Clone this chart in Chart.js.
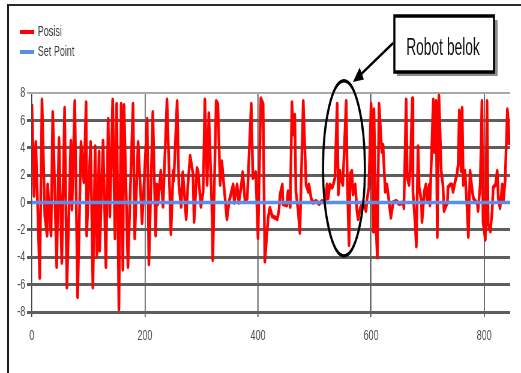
<!DOCTYPE html>
<html>
<head>
<meta charset="utf-8">
<script src="https://cdn.jsdelivr.net/npm/chart.js@4.4.1/dist/chart.umd.min.js"></script>
<style>
  html, body { margin: 0; padding: 0; background: #fff; }
  body { width: 521px; height: 373px; position: relative; overflow: hidden; }
  #frame { position: absolute; left: 7px; top: 4px; width: 520px; height: 372px;
           border-top: 2px solid #2a2a2a; border-left: 2px solid #1a1a1a; }
  /* the original picture is a chart squeezed horizontally */
  #wrap { position: absolute; left: 0; top: 0; width: 868px; height: 373px;
          transform: scaleX(0.60023); transform-origin: 0 0; }
</style>
</head>
<body>
<div id="frame"></div>
<div id="wrap"><canvas id="grafik" width="868" height="373"></canvas></div>
<script>
// data
var posisiX = [0, 4, 7, 14, 18, 23, 27, 28, 34, 37, 44, 48, 53, 58, 62, 69, 71, 76, 81, 87,
  92, 96, 97, 104, 108, 112, 115, 119, 120, 126, 131, 135, 138, 143, 147, 150, 154, 158, 161, 163,
  170, 175, 179, 182, 188, 195, 204, 207, 214, 219, 221, 223, 228, 232, 239, 246, 250, 251, 257, 260,
  264, 267, 273, 276, 280, 285, 287, 292, 294, 299, 303, 306, 310, 313, 319, 320, 326, 329, 333, 336,
  340, 345, 349, 356, 358, 363, 366, 370, 373, 377, 381, 388, 391, 396, 400, 405, 409, 412, 418, 421,
  425, 430, 434, 437, 439, 443, 444, 451, 453, 457, 460, 462, 465, 467, 471, 474, 480, 481, 485, 489,
  490, 494, 497, 503, 508, 513, 519, 522, 524, 527, 531, 533, 536, 540, 542, 545, 547, 550, 556, 558,
  561, 563, 566, 568, 572, 575, 577, 581, 586, 591, 593, 596, 600, 604, 605, 609, 611, 614, 619, 621,
  625, 628, 632, 635, 639, 644, 650, 657, 658, 662, 664, 667, 669, 673, 674, 678, 680, 683, 685, 689,
  690, 694, 697, 699, 703, 704, 710, 712, 715, 717, 720, 724, 727, 729, 735, 736, 740, 743, 745, 749,
  752, 754, 756, 759, 761, 763, 766, 770, 772, 775, 779, 781, 788, 789, 793, 796, 798, 802, 805, 807,
  811, 814, 816, 820, 823, 825, 828, 832, 834, 837, 841, 843, 844];
var posisiY = [7.2, 0.5, 4.4, -5.5, 7.5, -1.0, -2.4, 1.3, -2.4, 6.6, -4.7, 4.7, -4.4, 6.9, -6.2, 4.5, -0.5, 7.4, -6.9, 4.4,
  1.5, 7.3, -2.4, 4.4, -6.2, 4.1, -3.9, 3.7, -3.5, 4.5, -4.7, 6.1, -1.0, 7.5, -2.6, 7.2, -7.8, 7.2, -4.9, 7.1,
  -4.7, 2.0, 7.2, -2.6, 4.4, -1.5, 6.1, -4.5, 6.6, -2.4, 1.3, -0.1, 2.3, -0.3, 7.5, -2.3, 2.3, 1.6, 7.4, 1.3,
  -0.3, 2.2, -1.2, 1.3, 3.4, 2.1, -1.4, 2.5, 2.3, -0.3, 0.8, 7.5, 1.3, 6.5, -1.1, -4.2, 7.4, 7.2, 1.3, 3.0,
  1.1, -1.2, 0.1, 1.3, 0, 1.3, 0, 1.1, 2.2, 0.1, 0.3, 7.2, 1.8, 2.2, -2.6, 7.6, 7.2, -4.3, -1.1, -0.4,
  -1.0, -1.1, -1.2, -0.6, 0.6, 1.3, -0.1, -0.2, 0.8, -0.3, 7.3, 5.0, 6.4, 0.8, -0.6, -2.2, 7.4, 6.2, 1.3, 0.8,
  1.3, 0.3, 0, 0.1, -0.1, 0.1, 0, 1.3, 0.3, 1.3, 1.1, 1.3, 1.8, 7.2, 0.6, 2.3, 1.7, 1.3, 7.4, 1.3,
  -3.1, 2.1, 2.3, 0.6, 1.3, -0.6, -1.2, -0.4, 0.1, -0.6, 0.3, 1.1, 7.2, -2.1, 6.8, -2.1, -4.0, 7.2, 3.7, 4.2,
  0.8, 1.3, 0, -1.1, 0, 0.1, -0.1, 0, -0.4, 7.5, 1.8, 1.3, 2.3, 7.6, 0.8, -1.6, -3.2, 4.1, 1.1, 0.1,
  -1.4, 0.8, 1.3, 0.1, 1.3, -0.2, 7.5, 3.7, 7.4, -2.5, 7.8, 2.3, 1.3, -0.6, 0, 1.1, 1.3, 1.3, 0.8, 1.6,
  2.1, 2.8, 6.7, 2.3, 6.9, 1.3, 2.3, -0.6, -2.5, 2.3, 0.8, 0.3, -0.1, -0.6, 1.3, 7.4, -1.4, -2.7, 7.4, -1.6,
  -2.1, -0.6, 1.1, 1.3, 2.3, 0.3, -0.4, 1.3, 0.1, 1.6, 6.8, 5.7, 4.2];
var setPointX = [0, 846];
var setPointY = [0, 0];
var xTicks = [0, 200, 400, 600, 800];
var yTicks = [-8, -6, -4, -2, 0, 2, 4, 6, 8];

Chart.defaults.font.family = "'Liberation Sans', Arial, sans-serif";
Chart.defaults.font.size = 15;
Chart.defaults.color = '#505050';

// legend, ellipse, arrow and text box drawn on top
var catatan = {
  id: 'catatan',
  afterDraw: function (chart) {
    var ctx = chart.ctx;
    var sx = chart.scales.x, sy = chart.scales.y;
    ctx.save();

    // legend
    var rows = [32, 52];
    chart.data.datasets.forEach(function (ds, i) {
      ctx.strokeStyle = ds.borderColor;
      ctx.lineWidth = 4;
      ctx.beginPath();
      ctx.moveTo(33, rows[i]);
      ctx.lineTo(57, rows[i]);
      ctx.stroke();
      ctx.fillStyle = '#3a3a3a';
      ctx.font = "15px 'Liberation Sans', Arial, sans-serif";
      ctx.textBaseline = 'middle';
      ctx.textAlign = 'left';
      ctx.fillText(ds.label, 63, rows[i]);
    });

    // ellipse round the turning part
    var cx = sx.getPixelForValue(552), cy = sy.getPixelForValue(2.5);
    var rx = sx.getPixelForValue(552 + 37) - cx;
    var ry = cy - sy.getPixelForValue(2.5 + 6.4);
    ctx.strokeStyle = '#000';
    ctx.lineWidth = 3.5;
    ctx.beginPath();
    ctx.ellipse(cx, cy, rx, ry, 0, 0, Math.PI * 2);
    ctx.stroke();

    // arrow
    var x1 = 655, y1 = 43, x2 = 588, y2 = 82;
    var ang = Math.atan2(y2 - y1, x2 - x1);
    ctx.lineWidth = 3;
    ctx.beginPath();
    ctx.moveTo(x1, y1);
    ctx.lineTo(x2 - 10 * Math.cos(ang), y2 - 10 * Math.sin(ang));
    ctx.stroke();
    ctx.fillStyle = '#000';
    ctx.beginPath();
    ctx.moveTo(x2, y2);
    ctx.lineTo(x2 - 17 * Math.cos(ang) + 7 * Math.sin(ang), y2 - 17 * Math.sin(ang) - 7 * Math.cos(ang));
    ctx.lineTo(x2 - 17 * Math.cos(ang) - 7 * Math.sin(ang), y2 - 17 * Math.sin(ang) + 7 * Math.cos(ang));
    ctx.closePath();
    ctx.fill();

    // text box
    ctx.fillStyle = '#8c8c8c';
    ctx.fillRect(661, 20, 168, 56);
    ctx.fillStyle = '#fff';
    ctx.fillRect(657, 16, 166, 56);
    ctx.strokeStyle = '#000';
    ctx.lineWidth = 3.5;
    ctx.strokeRect(657, 16, 166, 56);
    ctx.fillStyle = '#111';
    ctx.font = "23px 'Liberation Sans', Arial, sans-serif";
    ctx.textAlign = 'center';
    ctx.textBaseline = 'alphabetic';
    ctx.fillText('Robot belok', 738, 55);

    ctx.restore();
  }
};

var grafik = new Chart(document.getElementById('grafik').getContext('2d'), {
  type: 'line',
  data: {
    datasets: [{
      label: 'Posisi',
      data: posisiX.map(function (x, i) { return { x: x, y: posisiY[i] }; }),
      borderColor: '#ff0000',
      borderWidth: 4.5,
      borderJoinStyle: 'round',
      pointRadius: 0,
      tension: 0,
      order: 1
    }, {
      label: 'Set Point',
      data: setPointX.map(function (x, i) { return { x: x, y: setPointY[i] }; }),
      borderColor: '#5a8ee8',
      borderWidth: 3.5,
      pointRadius: 0,
      order: 0
    }]
  },
  options: {
    responsive: false,
    animation: false,
    layout: { padding: { top: 93, right: 18, bottom: 0, left: 0 } },
    plugins: { legend: { display: false }, tooltip: { enabled: false } },
    scales: {
      x: {
        type: 'linear',
        min: 0,
        max: 846,
        afterFit: function (s) { s.height = 61; },
        afterBuildTicks: function (s) { s.ticks = xTicks.map(function (v) { return { value: v }; }); },
        ticks: { padding: 10, includeBounds: false },
        grid: { color: '#3a3a3a', lineWidth: 1.6, tickLength: 5 },
        border: { display: false }
      },
      y: {
        min: -8,
        max: 8,
        afterFit: function (s) { s.width = 53; },
        afterBuildTicks: function (s) { s.ticks = yTicks.map(function (v) { return { value: v }; }); },
        ticks: { padding: 3 },
        grid: {
          tickLength: 8,
          color: function (c) { return c.tick && c.tick.value === 8 ? '#a8a8a8' : '#5e5e5e'; },
          lineWidth: function (c) { return c.tick && c.tick.value === 8 ? 2 : 3; }
        },
        border: { display: false }
      }
    }
  },
  plugins: [catatan]
});
</script>
</body>
</html>
